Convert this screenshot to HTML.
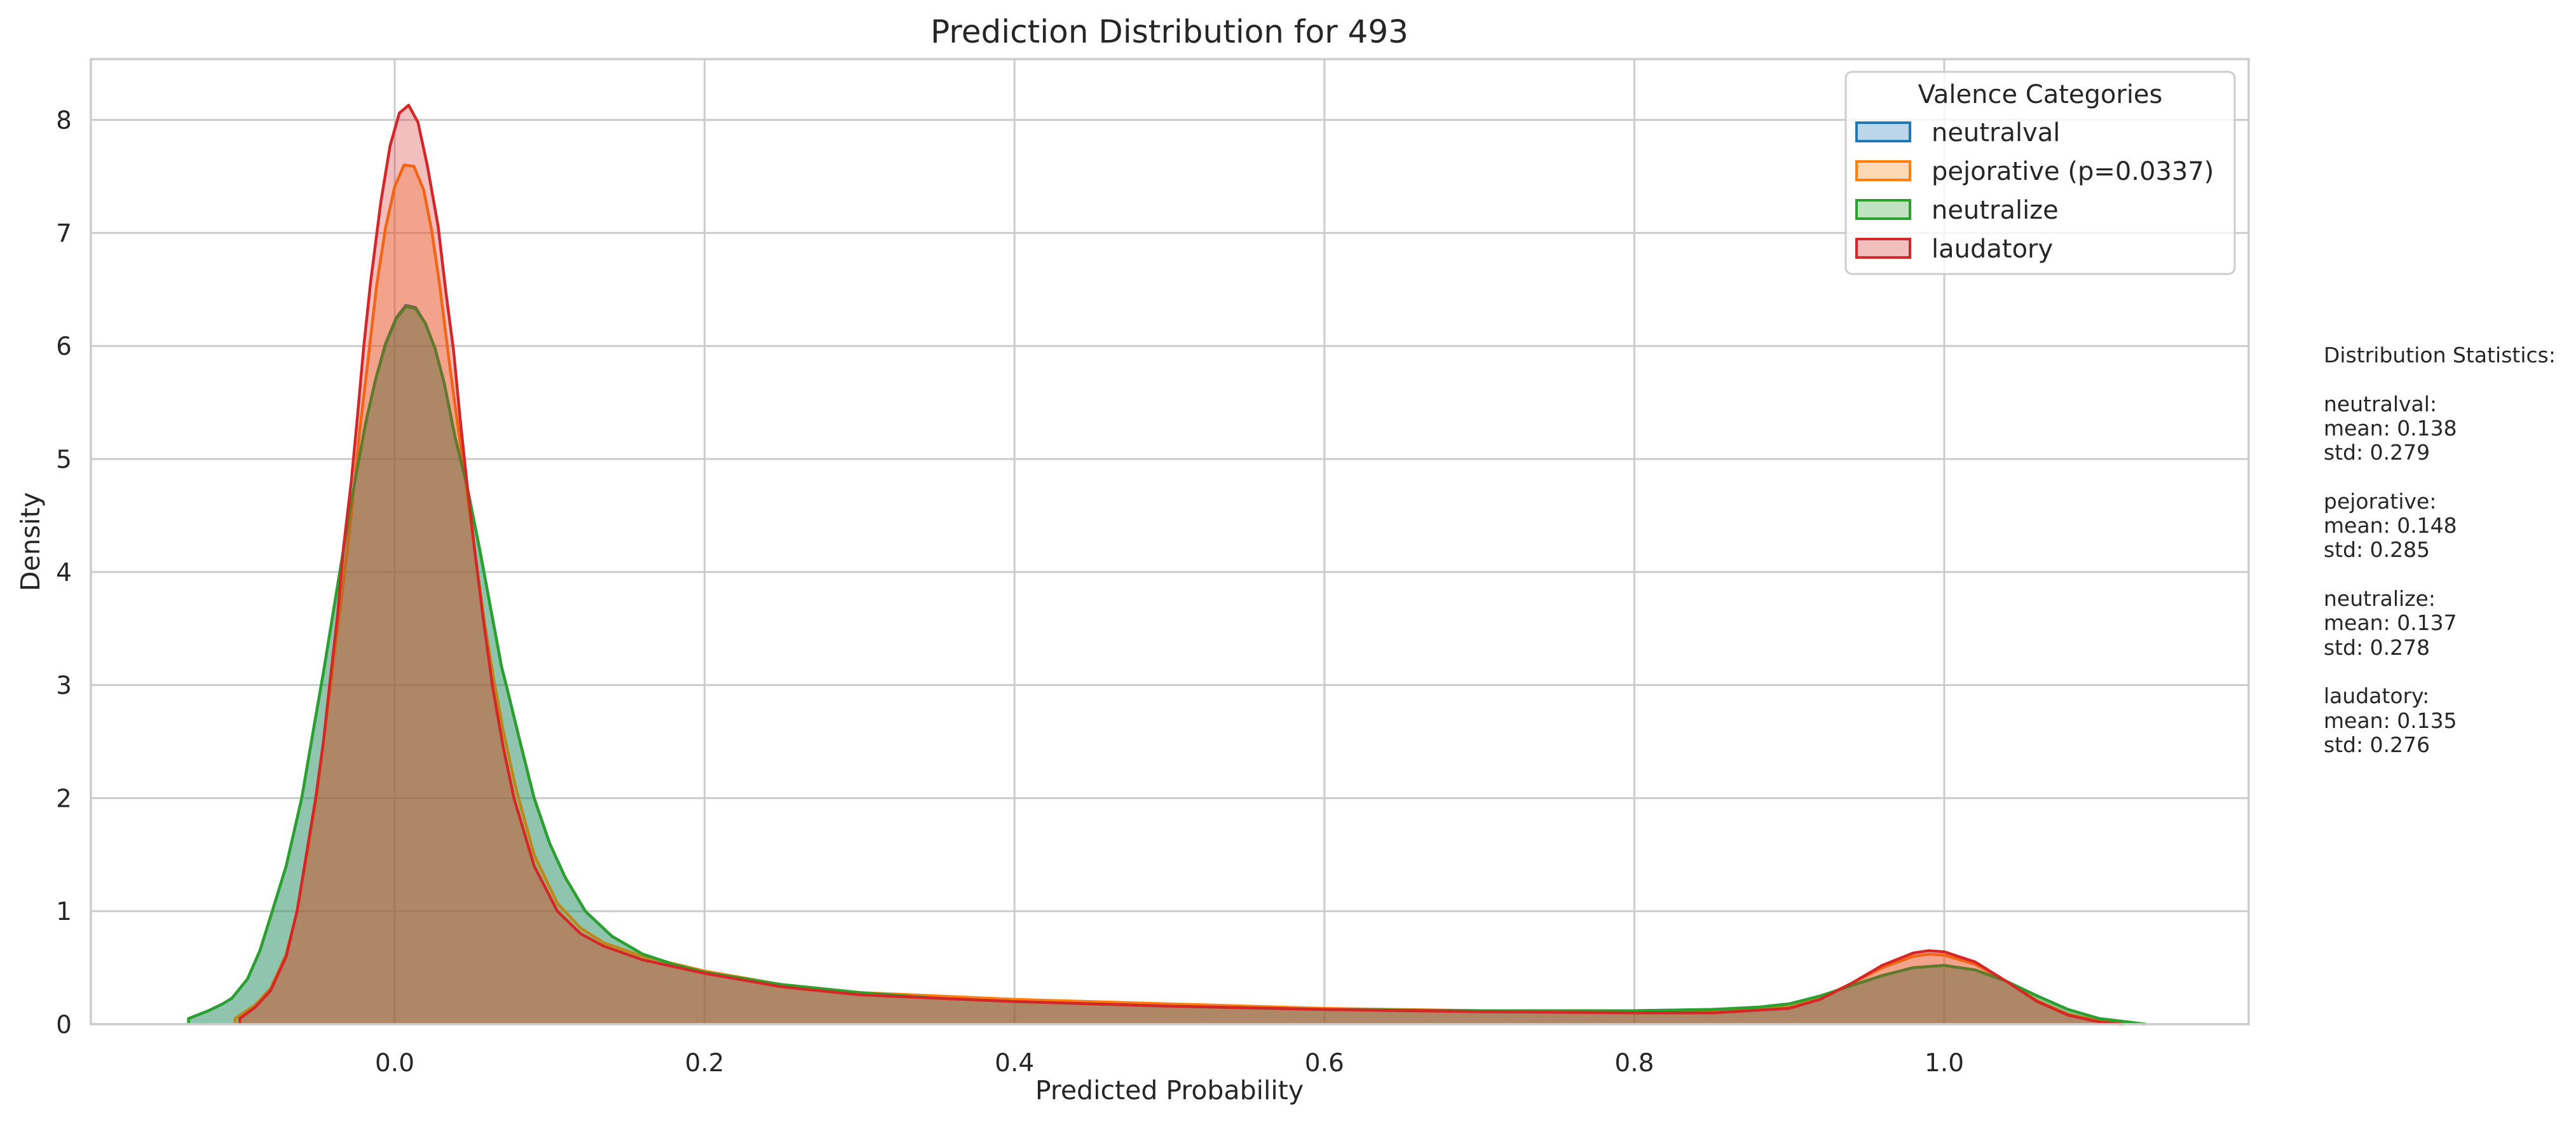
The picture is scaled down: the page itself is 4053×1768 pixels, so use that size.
<!DOCTYPE html>
<html><head><meta charset="utf-8"><style>
html,body{margin:0;padding:0;background:#fff;}
svg{display:block;font-family:"DejaVu Sans","Liberation Sans",sans-serif;}
</style></head><body>
<svg id="chart" width="4053" height="1768" viewBox="0 0 4053 1768" xmlns="http://www.w3.org/2000/svg">
<rect x="0" y="0" width="4053" height="1768" fill="#ffffff"/>
<g id="grid"></g>
<g id="series"></g>
<g id="axes"></g>
<text x="1840" y="67" font-size="50" fill="#262626" text-anchor="middle">Prediction Distribution for 493</text>
<text x="1840" y="1729" font-size="41" fill="#262626" text-anchor="middle">Predicted Probability</text>
<text transform="translate(62,852) rotate(-90)" font-size="41" fill="#262626" text-anchor="middle">Density</text>
<g>
<rect x="2904" y="113" width="612" height="318" rx="10" fill="#ffffff" fill-opacity="0.8" stroke="#cccccc" stroke-width="3"/>
<text x="3210" y="162" font-size="40" fill="#262626" text-anchor="middle">Valence Categories</text>
<g><rect x="2921" y="193" width="84" height="29" fill="#bcd6e9" stroke="#1f77b4" stroke-width="4"/><text x="3039" y="222" font-size="40" fill="#262626">neutralval</text></g>
<g><rect x="2921" y="254" width="84" height="29" fill="#ffd8b5" stroke="#ff7f0e" stroke-width="4"/><text x="3039" y="283" font-size="40" fill="#262626">pejorative (p=0.0337)</text></g>
<g><rect x="2921" y="315" width="84" height="29" fill="#c0e2c0" stroke="#2ca02c" stroke-width="4"/><text x="3039" y="344" font-size="40" fill="#262626">neutralize</text></g>
<g><rect x="2921" y="376" width="84" height="29" fill="#f3bebe" stroke="#d62728" stroke-width="4"/><text x="3039" y="405" font-size="40" fill="#262626">laudatory</text></g>
</g>
<text font-size="33" fill="#262626">
<tspan x="3656" y="570">Distribution Statistics:</tspan>
<tspan x="3656" y="647">neutralval:</tspan>
<tspan x="3656" y="685">mean: 0.138</tspan>
<tspan x="3656" y="723">std: 0.279</tspan>
<tspan x="3656" y="800">pejorative:</tspan>
<tspan x="3656" y="838">mean: 0.148</tspan>
<tspan x="3656" y="876">std: 0.285</tspan>
<tspan x="3656" y="953">neutralize:</tspan>
<tspan x="3656" y="991">mean: 0.137</tspan>
<tspan x="3656" y="1030">std: 0.278</tspan>
<tspan x="3656" y="1106">laudatory:</tspan>
<tspan x="3656" y="1145">mean: 0.135</tspan>
<tspan x="3656" y="1183">std: 0.276</tspan>
</text>
</svg>
<script>
const xTicks = [0.0, 0.2, 0.4, 0.6, 0.8, 1.0];
const xTickLabels = ["0.0", "0.2", "0.4", "0.6", "0.8", "1.0"];
const yTicks = [0, 1, 2, 3, 4, 5, 6, 7, 8];
const seriesNames = ["neutralval", "pejorative", "neutralize", "laudatory"];
const seriesColors = ["#1f77b4", "#ff7f0e", "#2ca02c", "#d62728"];

const greenX = [-0.133,-0.12,-0.111,-0.105,-0.095,-0.087,-0.079,-0.07,-0.06,-0.0525,-0.0454,-0.039,-0.0328,-0.0257,-0.0187,-0.0124,-0.006,0.001,0.0072,0.0135,0.0198,0.026,0.032,0.039,0.047,0.055,0.063,0.069,0.072,0.08,0.09,0.1,0.11,0.123,0.14,0.16,0.18,0.2,0.25,0.3,0.35,0.4,0.5,0.6,0.7,0.8,0.85,0.88,0.9,0.92,0.94,0.96,0.98,1.0,1.02,1.04,1.06,1.08,1.1,1.13];
const neutralizeY = [0.05,0.12,0.18,0.23,0.4,0.65,1.0,1.4,2.0,2.6,3.16,3.7,4.22,4.8,5.32,5.7,6.01,6.24,6.35,6.33,6.2,5.98,5.67,5.19,4.74,4.19,3.6,3.16,3.0,2.55,2.0,1.6,1.3,1.0,0.78,0.62,0.53,0.46,0.35,0.28,0.23,0.2,0.16,0.13,0.12,0.12,0.13,0.15,0.18,0.25,0.34,0.43,0.5,0.52,0.48,0.38,0.25,0.13,0.05,0.0];
const neutralvalY = [0.05,0.12,0.18,0.23,0.4,0.65,1.0,1.4,2.0,2.6,3.16,3.7,4.22,4.8,5.32,5.7,6.02,6.25,6.36,6.34,6.2,5.98,5.67,5.19,4.74,4.19,3.6,3.16,3.0,2.55,2.0,1.6,1.3,1.0,0.78,0.62,0.53,0.46,0.35,0.28,0.23,0.2,0.16,0.13,0.12,0.12,0.13,0.15,0.18,0.25,0.34,0.43,0.5,0.52,0.48,0.38,0.25,0.13,0.05,0.0];

const orangeX = [-0.103,-0.09,-0.08,-0.07,-0.063,-0.056,-0.05,-0.045,-0.04,-0.034,-0.028,-0.0226,-0.017,-0.0116,-0.006,0,0.006,0.0124,0.0187,0.024,0.029,0.0355,0.0457,0.052,0.058,0.064,0.07,0.078,0.09,0.105,0.12,0.135,0.16,0.2,0.25,0.3,0.4,0.5,0.6,0.7,0.8,0.85,0.9,0.92,0.94,0.96,0.98,0.99,1.0,1.02,1.04,1.06,1.08,1.1,1.115];
const pejorativeY = [0.05,0.17,0.32,0.62,1.0,1.55,2.05,2.6,3.15,3.8,4.5,5.25,5.9,6.54,7.04,7.41,7.6,7.59,7.38,7.01,6.54,5.83,4.8,4.15,3.55,3.05,2.6,2.1,1.5,1.07,0.85,0.72,0.6,0.47,0.35,0.28,0.22,0.18,0.14,0.12,0.12,0.12,0.15,0.23,0.36,0.5,0.6,0.62,0.61,0.53,0.38,0.21,0.09,0.03,0.0];

const redX = [-0.1,-0.09,-0.08,-0.07,-0.063,-0.057,-0.051,-0.046,-0.042,-0.037,-0.033,-0.028,-0.024,-0.02,-0.0155,-0.009,-0.003,0.003,0.009,0.015,0.021,0.028,0.033,0.038,0.0425,0.047,0.052,0.057,0.063,0.07,0.077,0.09,0.105,0.12,0.135,0.16,0.2,0.25,0.3,0.4,0.5,0.6,0.7,0.8,0.85,0.9,0.92,0.94,0.96,0.98,0.99,1.0,1.02,1.04,1.06,1.08,1.1,1.115];
const laudatoryY = [0.05,0.15,0.3,0.6,1.0,1.5,2.0,2.5,3.0,3.6,4.22,4.8,5.38,5.99,6.57,7.27,7.77,8.06,8.13,7.98,7.6,7.06,6.48,5.96,5.32,4.74,4.15,3.6,3.0,2.45,2.0,1.4,1.0,0.8,0.69,0.57,0.45,0.33,0.26,0.2,0.16,0.13,0.11,0.1,0.1,0.14,0.22,0.36,0.52,0.63,0.65,0.64,0.55,0.38,0.2,0.08,0.02,0.0];

const X0 = 621, XU = 2438, Y0 = 1611, YU = 177.8;
const PL = 143, PT = 93, PR = 3538, PB = 1611;
function sx(v){ return X0 + v * XU; }
function sy(v){ return Y0 - v * YU; }
const NS = "http://www.w3.org/2000/svg";
function mk(tag, attrs){ const e = document.createElementNS(NS, tag); for (const k in attrs) e.setAttribute(k, attrs[k]); return e; }

const grid = document.getElementById('grid');
const axes = document.getElementById('axes');
xTicks.forEach((t, i) => {
  const l = mk('line', {x1: sx(t), x2: sx(t), y1: PT, y2: PB, stroke: '#cccccc', 'stroke-width': 3});
  
  
  grid.appendChild(l);
  const tx = mk('text', {x: sx(t), y: 1685, 'font-size': 39, fill: '#262626', 'text-anchor': 'middle'});
  tx.textContent = xTickLabels[i];
  
  
  axes.appendChild(tx);
});
yTicks.forEach(t => {
  const l = mk('line', {x1: PL, x2: PR, y1: sy(t), y2: sy(t), stroke: '#cccccc', 'stroke-width': 3});
  
  
  grid.appendChild(l);
  const tx = mk('text', {x: 113, y: sy(t) + 14, 'font-size': 39, fill: '#262626', 'text-anchor': 'end'});
  tx.textContent = String(t);
  
  
  axes.appendChild(tx);
});
const frame = mk('rect', {x: PL, y: PT, width: PR - PL, height: PB - PT, fill: 'none', stroke: '#cccccc', 'stroke-width': 3.5});


axes.appendChild(frame);

const seriesData = [[greenX, neutralvalY], [orangeX, pejorativeY], [greenX, neutralizeY], [redX, laudatoryY]];
const layer = document.getElementById('series');
seriesData.forEach((s, i) => {
  const xs = s[0], ys = s[1];
  let line = '';
  for (let k = 0; k < xs.length; k++) line += (k ? 'L' : 'M') + sx(xs[k]).toFixed(1) + ',' + sy(ys[k]).toFixed(1);
  const area = line + 'L' + sx(xs[xs.length-1]).toFixed(1) + ',' + Y0 + 'L' + sx(xs[0]).toFixed(1) + ',' + Y0 + 'Z';
  const a = mk('path', {d: area, fill: seriesColors[i], 'fill-opacity': 0.3, stroke: 'none'});
  
  
  layer.appendChild(a);
  const p = mk('path', {d: 'M' + sx(xs[0]).toFixed(1) + ',' + Y0 + 'L' + line.slice(1) + 'L' + sx(xs[xs.length-1]).toFixed(1) + ',' + Y0, fill: 'none', stroke: seriesColors[i], 'stroke-width': 4.5, 'stroke-linejoin': 'round'});
  
  
  layer.appendChild(p);
});
</script>
</body></html>
